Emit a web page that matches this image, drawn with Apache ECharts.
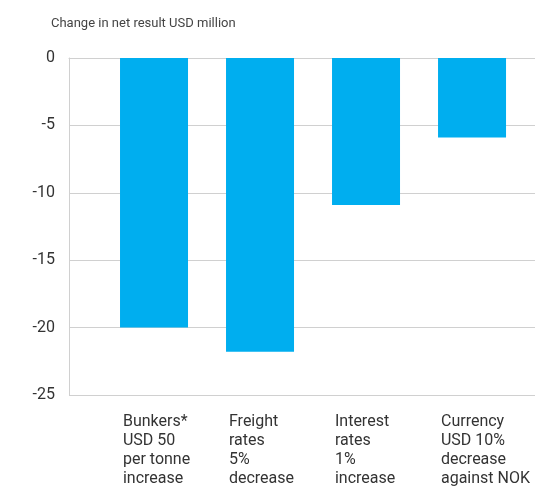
<!DOCTYPE html>
<html>
<head>
<meta charset="utf-8">
<script src="https://cdn.jsdelivr.net/npm/echarts@6/dist/echarts.min.js"></script>
<style>
  html, body { margin: 0; padding: 0; background: #fff; }
  #chart { width: 535px; height: 488px; }
</style>
</head>
<body>
<div id="chart"></div>
<script>
// Sensitivity of net result (USD million)
const categories = [
  'Bunkers*\nUSD 50\nper tonne\nincrease',
  'Freight\nrates\n5%\ndecrease',
  'Interest\nrates\n1%\nincrease',
  'Currency\nUSD 10%\ndecrease\nagainst NOK'
];
const values = [-20, -21.8, -10.9, -5.9];
const yTicks = [0, -5, -10, -15, -20, -25];

// categories sit at positions 1..n on a value axis
const positions = categories.map((_, i) => i + 1);
const LABEL_SHIFT = -0.293; // left edge of each label block relative to its bar centre

const chart = echarts.init(document.getElementById('chart'), null, { renderer: 'canvas' });

const labelPositions = positions.map(p => p + LABEL_SHIFT);

chart.setOption({
  backgroundColor: '#ffffff',
  animation: false,
  textStyle: { fontFamily: 'Roboto' },
  title: {
    text: 'Change in net result USD million',
    left: 46,
    top: 12,
    textStyle: { fontFamily: 'Roboto', fontSize: 13, fontWeight: 'normal', color: '#444' }
  },
  grid: { left: 69, right: 0, top: 58, bottom: 93, containLabel: false },
  xAxis: {
    type: 'value',
    min: 0.198,
    max: 4.594,
    splitLine: { show: false },
    axisLine: { show: true, lineStyle: { color: '#d0d0d0', width: 1 } },
    axisTick: {
      show: true,
      customValues: positions,
      length: 11,
      lineStyle: { color: '#d0d0d0', width: 1 }
    },
    axisLabel: {
      customValues: labelPositions,
      formatter: function (v) {
        const i = labelPositions.findIndex(p => Math.abs(p - v) < 1e-6);
        return i >= 0 ? categories[i] : '';
      },
      align: 'left',
      verticalAlign: 'top',
      margin: 17,
      fontSize: 16,
      lineHeight: 19,
      color: '#333',
      fontFamily: 'Roboto'
    }
  },
  yAxis: {
    type: 'value',
    min: -25,
    max: 0,
    interval: 5,
    axisLine: { show: true, lineStyle: { color: '#d0d0d0', width: 1 } },
    axisTick: { show: false },
    splitLine: { show: true, lineStyle: { color: '#d0d0d0', width: 1 } },
    axisLabel: {
      formatter: function (v) { return yTicks.includes(v) ? String(v) : ''; },
      fontSize: 16,
      color: '#333',
      margin: 14,
      fontFamily: 'Roboto'
    }
  },
  series: [{
    type: 'bar',
    barWidth: 68,
    itemStyle: { color: '#00AEEF' },
    data: positions.map((p, i) => [p, values[i]])
  }]
});
</script>
</body>
</html>
